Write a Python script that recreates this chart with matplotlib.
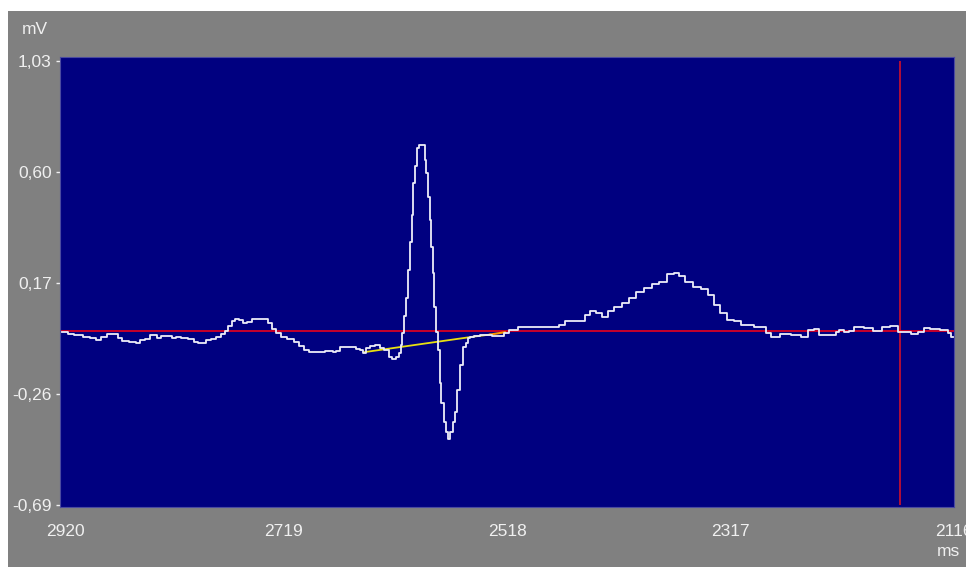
import matplotlib.pyplot as plt
from matplotlib.patches import Rectangle
from matplotlib.transforms import ScaledTranslation

# ECG trace (time in ms, amplitude in mV)
time_ms = [2918, 2914, 2912, 2902, 2896, 2890, 2885, 2881, 2875, 2870, 2866, 2862,
           2854, 2850, 2847, 2841, 2838, 2833, 2832, 2827, 2821, 2817, 2814, 2808,
           2802, 2797, 2794, 2790, 2787, 2782, 2778, 2773, 2770, 2767, 2764, 2761,
           2757, 2754, 2749, 2745, 2734, 2731, 2727, 2724, 2719, 2713, 2707, 2703,
           2698, 2695, 2683, 2680, 2676, 2673, 2670, 2667, 2656, 2652, 2649, 2646,
           2643, 2640, 2634, 2631, 2626, 2623, 2620, 2616, 2614, 2613, 2611, 2610,
           2608, 2606, 2604, 2603, 2602, 2599, 2598, 2596, 2593, 2591, 2590, 2588,
           2587, 2585, 2584, 2583, 2581, 2579, 2578, 2576, 2574, 2572, 2570, 2568,
           2566, 2564, 2562, 2559, 2556, 2554, 2552, 2550, 2545, 2539, 2524, 2518,
           2515, 2511, 2506, 2494, 2473, 2470, 2461, 2449, 2446, 2440, 2436, 2430,
           2425, 2419, 2410, 2406, 2398, 2391, 2385, 2377, 2371, 2365, 2361, 2355,
           2347, 2340, 2335, 2329, 2323, 2317, 2311, 2305, 2287, 2284, 2277, 2268,
           2257, 2250, 2245, 2238, 2236, 2224, 2221, 2217, 2212, 2209, 2203, 2191,
           2187, 2181, 2180, 2167, 2165, 2158, 2151, 2145, 2141, 2135, 2123, 2120,
           2117]
voltage_mv = [-0.021, -0.019, -0.028, -0.031, -0.040, -0.043, -0.053, -0.038, -0.029,
              -0.026, -0.042, -0.056, -0.058, -0.064, -0.051, -0.047, -0.033, -0.033,
              -0.043, -0.034, -0.034, -0.042, -0.038, -0.042, -0.046, -0.057, -0.064,
              -0.062, -0.051, -0.048, -0.040, -0.029, -0.016, 0.003, 0.024, 0.029,
              0.027, 0.016, 0.018, 0.029, 0.029, 0.016, -0.009, -0.025, -0.040, -0.046,
              -0.057, -0.073, -0.089, -0.098, -0.098, -0.092, -0.092, -0.098, -0.092,
              -0.079, -0.077, -0.086, -0.089, -0.100, -0.083, -0.073, -0.070, -0.083,
              -0.089, -0.118, -0.123, -0.118, -0.102, -0.070, -0.025, 0.040, 0.111,
              0.220, 0.330, 0.433, 0.556, 0.621, 0.692, 0.705, 0.705, 0.647, 0.595,
              0.504, 0.414, 0.311, 0.208, 0.078, -0.019, -0.089, -0.218, -0.296,
              -0.367, -0.406, -0.435, -0.406, -0.367, -0.329, -0.244, -0.148, -0.077,
              -0.061, -0.044, -0.038, -0.035, -0.031, -0.034, -0.025, -0.012, -0.012,
              -0.002, 0.001, 0.001, 0.007, 0.023, 0.023, 0.046, 0.063, 0.053, 0.036,
              0.063, 0.076, 0.094, 0.113, 0.136, 0.152, 0.165, 0.175, 0.205, 0.210,
              0.197, 0.175, 0.153, 0.146, 0.124, 0.085, 0.053, 0.027, 0.023, 0.007,
              0.001, -0.025, -0.039, -0.028, -0.031, -0.038, -0.012, -0.009, -0.031,
              -0.031, -0.019, -0.012, -0.022, -0.016, 0.001, -0.003, -0.016, -0.016,
              0.001, 0.003, -0.019, -0.022, -0.028, -0.022, -0.005, -0.008, -0.012,
              -0.025, -0.038]

baseline_mv = -0.017
cursor_ms = 2165
# yellow slope line under the QRS and its short orange end
slope_ms = [2646, 2548, 2533]
slope_mv = [-0.098, -0.038, -0.030]
end_ms = [2533, 2520]
end_mv = [-0.030, -0.021]

y_ticks = [1.03, 0.60, 0.17, -0.26, -0.69]
y_labels = ['1,03', '0,60', '0,17', '-0,26', '-0,69']
x_ticks = [2920, 2719, 2518, 2317, 2116]
x_labels = ['2920', '2719', '2518', '2317', '2116']

fig = plt.figure(figsize=(9.66, 5.67), dpi=100, facecolor='white')
fig.patches.append(Rectangle((8 / 966, 0), 1, 1 - 11 / 567, transform=fig.transFigure,
                             facecolor='#808080', edgecolor='none', zorder=-10))

ax = fig.add_axes([60 / 966, 1 - 507 / 567, 894 / 966, 450 / 567])
ax.set_facecolor('#000080')
for s in ax.spines.values():
    s.set_color('#4a4aa0')
    s.set_linewidth(0.8)

ax.axhline(baseline_mv, color='#e8001c', lw=1.2, zorder=2)
ax.vlines(cursor_ms, y_ticks[-1], y_ticks[0], color='#d0102a', lw=1.2, zorder=2)
ax.plot(slope_ms, slope_mv, color='#e8e010', lw=1.3, zorder=3)
ax.plot(end_ms, end_mv, color='#ff9a00', lw=1.5, zorder=3)
ax.plot(time_ms, voltage_mv, color='#ececf8', lw=1.3, drawstyle='steps-mid', zorder=4)

ax.set_xlim(2920, 2116)
ax.set_ylim(-0.698, 1.045)

ax.set_yticks(y_ticks)
ax.set_yticklabels(y_labels)
ax.set_xticks(x_ticks)
ax.set_xticklabels(x_labels)
ax.tick_params(axis='y', colors='#f0f0f0', length=3, width=1, pad=3, labelsize=12.5)
ax.tick_params(axis='x', colors='#f0f0f0', length=0, pad=12, labelsize=12.5)
for lab in ax.get_xticklabels() + ax.get_yticklabels():
    lab.set_family('Liberation Sans')
# first x label sits a little right of the axis edge
first = ax.get_xticklabels()[0]
first.set_transform(first.get_transform() + ScaledTranslation(5 / 100, 0, fig.dpi_scale_trans))

fig.text(22 / 966, 1 - 30 / 567, 'mV', color='#f0f0f0', fontsize=12.5,
         family='Liberation Sans', va='center', ha='left')
fig.text(960 / 966, 1 - 552 / 567, 'ms', color='#f0f0f0', fontsize=12.5,
         family='Liberation Sans', va='center', ha='right')

fig.savefig('out.png', dpi=100, facecolor=fig.get_facecolor())
